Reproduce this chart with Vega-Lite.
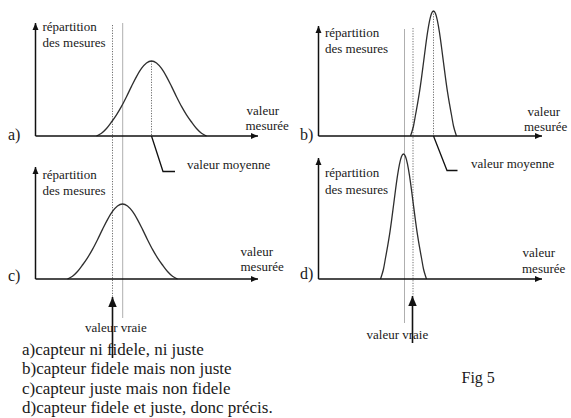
{
  "$schema": "https://vega.github.io/schema/vega-lite/v6.json",
  "width": 571,
  "height": 418,
  "padding": 0,
  "autosize": {"type": "fit", "contains": "padding"},
  "background": "white",
  "config": {"view": {"stroke": null}, "text": {"font": "Liberation Serif, Times New Roman, DejaVu Serif, serif"}},
  "datasets": {
    "axes": [
      {"panel": "a", "axis": "v", "x": 35.5, "y": 136, "x2": 35.5, "y2": 23},
      {"panel": "a", "axis": "h", "x": 35.5, "y": 136, "x2": 258, "y2": 136},
      {"panel": "b", "axis": "v", "x": 318.5, "y": 136, "x2": 318.5, "y2": 26},
      {"panel": "b", "axis": "h", "x": 318.5, "y": 136, "x2": 542, "y2": 136},
      {"panel": "c", "axis": "v", "x": 35.5, "y": 279, "x2": 35.5, "y2": 167},
      {"panel": "c", "axis": "h", "x": 35.5, "y": 279, "x2": 258, "y2": 279},
      {"panel": "d", "axis": "v", "x": 318.5, "y": 279, "x2": 318.5, "y2": 158},
      {"panel": "d", "axis": "h", "x": 318.5, "y": 279, "x2": 542, "y2": 279}
    ],
    "verticals": [
      {"line": "truth", "x": 112.5, "y": 25, "y2": 297},
      {"line": "mean", "x": 122.7, "y": 23, "y2": 318},
      {"line": "truth", "x": 413, "y": 28, "y2": 296},
      {"line": "mean", "x": 404.5, "y": 29, "y2": 323},
      {"line": "peak", "x": 151.5, "y": 61, "y2": 136},
      {"line": "peak", "x": 433.5, "y": 11, "y2": 136}
    ],
    "truthArrows": [
      {"x": 112.5, "y": 297, "y2": 358},
      {"x": 412.5, "y": 296, "y2": 343}
    ],
    "leaders": [
      {"panel": "a", "seq": 1, "x": 151.5, "y": 136},
      {"panel": "a", "seq": 2, "x": 163, "y": 171.5},
      {"panel": "a", "seq": 3, "x": 175, "y": 171.5},
      {"panel": "b", "seq": 1, "x": 433.5, "y": 136},
      {"panel": "b", "seq": 2, "x": 447, "y": 170.5},
      {"panel": "b", "seq": 3, "x": 457.5, "y": 170.5}
    ],
    "curves": [
      {"panel": "a", "x": 96.5, "y": 136},
      {"panel": "a", "x": 101.5, "y": 133.2},
      {"panel": "a", "x": 106.5, "y": 128.5},
      {"panel": "a", "x": 111.5, "y": 122},
      {"panel": "a", "x": 116.5, "y": 114.8},
      {"panel": "a", "x": 121.5, "y": 106.4},
      {"panel": "a", "x": 126.5, "y": 96.7},
      {"panel": "a", "x": 131.5, "y": 86.4},
      {"panel": "a", "x": 136.5, "y": 76.6},
      {"panel": "a", "x": 141.5, "y": 68.4},
      {"panel": "a", "x": 146.5, "y": 62.9},
      {"panel": "a", "x": 151.5, "y": 61},
      {"panel": "a", "x": 156.5, "y": 62.9},
      {"panel": "a", "x": 161.5, "y": 68.4},
      {"panel": "a", "x": 166.5, "y": 76.6},
      {"panel": "a", "x": 171.5, "y": 86.4},
      {"panel": "a", "x": 176.5, "y": 96.7},
      {"panel": "a", "x": 181.5, "y": 106.4},
      {"panel": "a", "x": 186.5, "y": 114.8},
      {"panel": "a", "x": 191.5, "y": 122},
      {"panel": "a", "x": 196.5, "y": 128.5},
      {"panel": "a", "x": 201.5, "y": 133.2},
      {"panel": "a", "x": 206.5, "y": 136},
      {"panel": "c", "x": 67.5, "y": 279},
      {"panel": "c", "x": 72.5, "y": 276.2},
      {"panel": "c", "x": 77.5, "y": 271.5},
      {"panel": "c", "x": 82.5, "y": 265},
      {"panel": "c", "x": 87.5, "y": 257.8},
      {"panel": "c", "x": 92.5, "y": 249.4},
      {"panel": "c", "x": 97.5, "y": 239.7},
      {"panel": "c", "x": 102.5, "y": 229.4},
      {"panel": "c", "x": 107.5, "y": 219.6},
      {"panel": "c", "x": 112.5, "y": 211.4},
      {"panel": "c", "x": 117.5, "y": 205.9},
      {"panel": "c", "x": 122.5, "y": 204},
      {"panel": "c", "x": 127.5, "y": 205.9},
      {"panel": "c", "x": 132.5, "y": 211.4},
      {"panel": "c", "x": 137.5, "y": 219.6},
      {"panel": "c", "x": 142.5, "y": 229.4},
      {"panel": "c", "x": 147.5, "y": 239.7},
      {"panel": "c", "x": 152.5, "y": 249.4},
      {"panel": "c", "x": 157.5, "y": 257.8},
      {"panel": "c", "x": 162.5, "y": 265},
      {"panel": "c", "x": 167.5, "y": 271.5},
      {"panel": "c", "x": 172.5, "y": 276.2},
      {"panel": "c", "x": 177.5, "y": 279},
      {"panel": "b", "x": 410.5, "y": 136},
      {"panel": "b", "x": 411.5, "y": 133},
      {"panel": "b", "x": 413.5, "y": 126},
      {"panel": "b", "x": 415.5, "y": 115},
      {"panel": "b", "x": 417.5, "y": 103.9},
      {"panel": "b", "x": 419.5, "y": 91.9},
      {"panel": "b", "x": 421.5, "y": 77.8},
      {"panel": "b", "x": 423.5, "y": 62.5},
      {"panel": "b", "x": 425.5, "y": 47},
      {"panel": "b", "x": 427.5, "y": 32.7},
      {"panel": "b", "x": 429.5, "y": 21.2},
      {"panel": "b", "x": 431.5, "y": 13.6},
      {"panel": "b", "x": 433.5, "y": 11},
      {"panel": "b", "x": 435.5, "y": 13.6},
      {"panel": "b", "x": 437.5, "y": 21.2},
      {"panel": "b", "x": 439.5, "y": 32.7},
      {"panel": "b", "x": 441.5, "y": 47},
      {"panel": "b", "x": 443.5, "y": 62.5},
      {"panel": "b", "x": 445.5, "y": 77.8},
      {"panel": "b", "x": 447.5, "y": 91.9},
      {"panel": "b", "x": 449.5, "y": 103.9},
      {"panel": "b", "x": 451.5, "y": 115},
      {"panel": "b", "x": 453.5, "y": 126},
      {"panel": "b", "x": 455.5, "y": 133},
      {"panel": "b", "x": 456.5, "y": 136},
      {"panel": "d", "x": 380.5, "y": 279},
      {"panel": "d", "x": 381.5, "y": 276},
      {"panel": "d", "x": 383.5, "y": 269},
      {"panel": "d", "x": 385.5, "y": 258},
      {"panel": "d", "x": 387.5, "y": 246.9},
      {"panel": "d", "x": 389.5, "y": 234.9},
      {"panel": "d", "x": 391.5, "y": 220.8},
      {"panel": "d", "x": 393.5, "y": 205.5},
      {"panel": "d", "x": 395.5, "y": 190},
      {"panel": "d", "x": 397.5, "y": 175.7},
      {"panel": "d", "x": 399.5, "y": 164.2},
      {"panel": "d", "x": 401.5, "y": 156.6},
      {"panel": "d", "x": 403.5, "y": 154},
      {"panel": "d", "x": 405.5, "y": 156.6},
      {"panel": "d", "x": 407.5, "y": 164.2},
      {"panel": "d", "x": 409.5, "y": 175.7},
      {"panel": "d", "x": 411.5, "y": 190},
      {"panel": "d", "x": 413.5, "y": 205.5},
      {"panel": "d", "x": 415.5, "y": 220.8},
      {"panel": "d", "x": 417.5, "y": 234.9},
      {"panel": "d", "x": 419.5, "y": 246.9},
      {"panel": "d", "x": 421.5, "y": 258},
      {"panel": "d", "x": 423.5, "y": 269},
      {"panel": "d", "x": 425.5, "y": 276},
      {"panel": "d", "x": 426.5, "y": 279}
    ],
    "labels": [
      {"role": "axis", "text": "répartition", "x": 42.5, "y": 30.5},
      {"role": "axis", "text": "des mesures", "x": 42.5, "y": 46.5},
      {"role": "axis", "text": "valeur", "x": 246.5, "y": 115},
      {"role": "axis", "text": "mesurée", "x": 245.5, "y": 130},
      {"role": "axis", "text": "valeur moyenne", "x": 187, "y": 169},
      {"role": "axis", "text": "répartition", "x": 42.5, "y": 179},
      {"role": "axis", "text": "des mesures", "x": 42.5, "y": 195},
      {"role": "axis", "text": "valeur", "x": 240.5, "y": 256},
      {"role": "axis", "text": "mesurée", "x": 240.5, "y": 271},
      {"role": "axis", "text": "valeur vraie", "x": 85, "y": 332},
      {"role": "axis", "text": "répartition", "x": 325, "y": 36.5},
      {"role": "axis", "text": "des mesures", "x": 325, "y": 53},
      {"role": "axis", "text": "valeur", "x": 527.5, "y": 116},
      {"role": "axis", "text": "mesurée", "x": 524, "y": 131},
      {"role": "axis", "text": "valeur moyenne", "x": 471, "y": 168},
      {"role": "axis", "text": "répartition", "x": 325, "y": 177},
      {"role": "axis", "text": "des mesures", "x": 325, "y": 193.5},
      {"role": "axis", "text": "valeur", "x": 522.5, "y": 257},
      {"role": "axis", "text": "mesurée", "x": 522, "y": 272.5},
      {"role": "axis", "text": "valeur vraie", "x": 366.5, "y": 339},
      {"role": "panel", "text": "a)", "x": 8, "y": 139.5},
      {"role": "panel", "text": "b)", "x": 300, "y": 139.5},
      {"role": "panel", "text": "c)", "x": 8, "y": 281},
      {"role": "panel", "text": "d)", "x": 300, "y": 279},
      {"role": "panel", "text": "Fig 5", "x": 461.5, "y": 382.5},
      {"role": "legend", "text": "a)capteur ni fidele, ni juste", "x": 22, "y": 354.5},
      {"role": "legend", "text": "b)capteur fidele mais non juste", "x": 22, "y": 374},
      {"role": "legend", "text": "c)capteur juste mais non fidele", "x": 22, "y": 393.5},
      {"role": "legend", "text": "d)capteur fidele et juste, donc précis.", "x": 22, "y": 413}
    ]
  },
  "encoding": {
    "x": {"field": "x", "type": "quantitative", "axis": null, "scale": {"domain": [0, 571], "nice": false, "zero": false}},
    "y": {"field": "y", "type": "quantitative", "axis": null, "scale": {"domain": [0, 418], "nice": false, "zero": false, "reverse": true}}
  },
  "layer": [
    {
      "data": {"name": "labels"},
      "transform": [{"filter": "datum.role === 'axis'"}],
      "mark": {"type": "text", "align": "left", "baseline": "alphabetic", "font": "Liberation Serif, Times New Roman, DejaVu Serif, serif", "fontSize": 13, "color": "#1a1a1a"},
      "encoding": {"text": {"field": "text"}}
    },
    {
      "data": {"name": "labels"},
      "transform": [{"filter": "datum.role === 'panel'"}],
      "mark": {"type": "text", "align": "left", "baseline": "alphabetic", "font": "Liberation Serif, Times New Roman, DejaVu Serif, serif", "fontSize": 16, "color": "#1a1a1a"},
      "encoding": {"text": {"field": "text"}}
    },
    {
      "data": {"name": "labels"},
      "transform": [{"filter": "datum.role === 'legend'"}],
      "mark": {"type": "text", "align": "left", "baseline": "alphabetic", "font": "Liberation Serif, Times New Roman, DejaVu Serif, serif", "fontSize": 17, "color": "#1a1a1a"},
      "encoding": {"text": {"field": "text"}}
    },
    {
      "data": {"name": "verticals"},
      "transform": [{"filter": "datum.line === 'mean'"}],
      "mark": {"type": "rule", "color": "#9a9a9a", "strokeWidth": 0.8},
      "encoding": {"y2": {"field": "y2"}}
    },
    {
      "data": {"name": "verticals"},
      "transform": [{"filter": "datum.line !== 'mean'"}],
      "mark": {"type": "rule", "color": "#6f6f6f", "strokeWidth": 1, "strokeDash": [1.2, 1.4]},
      "encoding": {"y2": {"field": "y2"}}
    },
    {
      "data": {"name": "curves"},
      "mark": {"type": "line", "interpolate": "monotone", "color": "#2e2e2e", "strokeWidth": 1.3},
      "encoding": {"detail": {"field": "panel"}}
    },
    {
      "data": {"name": "leaders"},
      "mark": {"type": "line", "color": "#111111", "strokeWidth": 1.3},
      "encoding": {"detail": {"field": "panel"}, "order": {"field": "seq"}}
    },
    {
      "data": {"name": "axes"},
      "mark": {"type": "rule", "color": "#111111", "strokeWidth": 1.5},
      "encoding": {"x2": {"field": "x2"}, "y2": {"field": "y2"}}
    },
    {
      "data": {"name": "axes"},
      "transform": [{"filter": "datum.axis === 'v'"}],
      "mark": {"type": "point", "filled": true, "opacity": 1, "color": "#111111", "size": 49, "shape": "M0,0L0.85,2L-0.85,2Z"},
      "encoding": {"x": {"field": "x2"}, "y": {"field": "y2"}}
    },
    {
      "data": {"name": "axes"},
      "transform": [{"filter": "datum.axis === 'h'"}],
      "mark": {"type": "point", "filled": true, "opacity": 1, "color": "#111111", "size": 49, "shape": "M0,0L-2,0.85L-2,-0.85Z"},
      "encoding": {"x": {"field": "x2"}, "y": {"field": "y2"}}
    },
    {
      "data": {"name": "truthArrows"},
      "mark": {"type": "rule", "color": "#111111", "strokeWidth": 1.6},
      "encoding": {"y2": {"field": "y2"}}
    },
    {
      "data": {"name": "truthArrows"},
      "mark": {"type": "point", "filled": true, "opacity": 1, "color": "#111111", "size": 100, "shape": "M0,0L0.85,2L-0.85,2Z"}
    }
  ]
}
